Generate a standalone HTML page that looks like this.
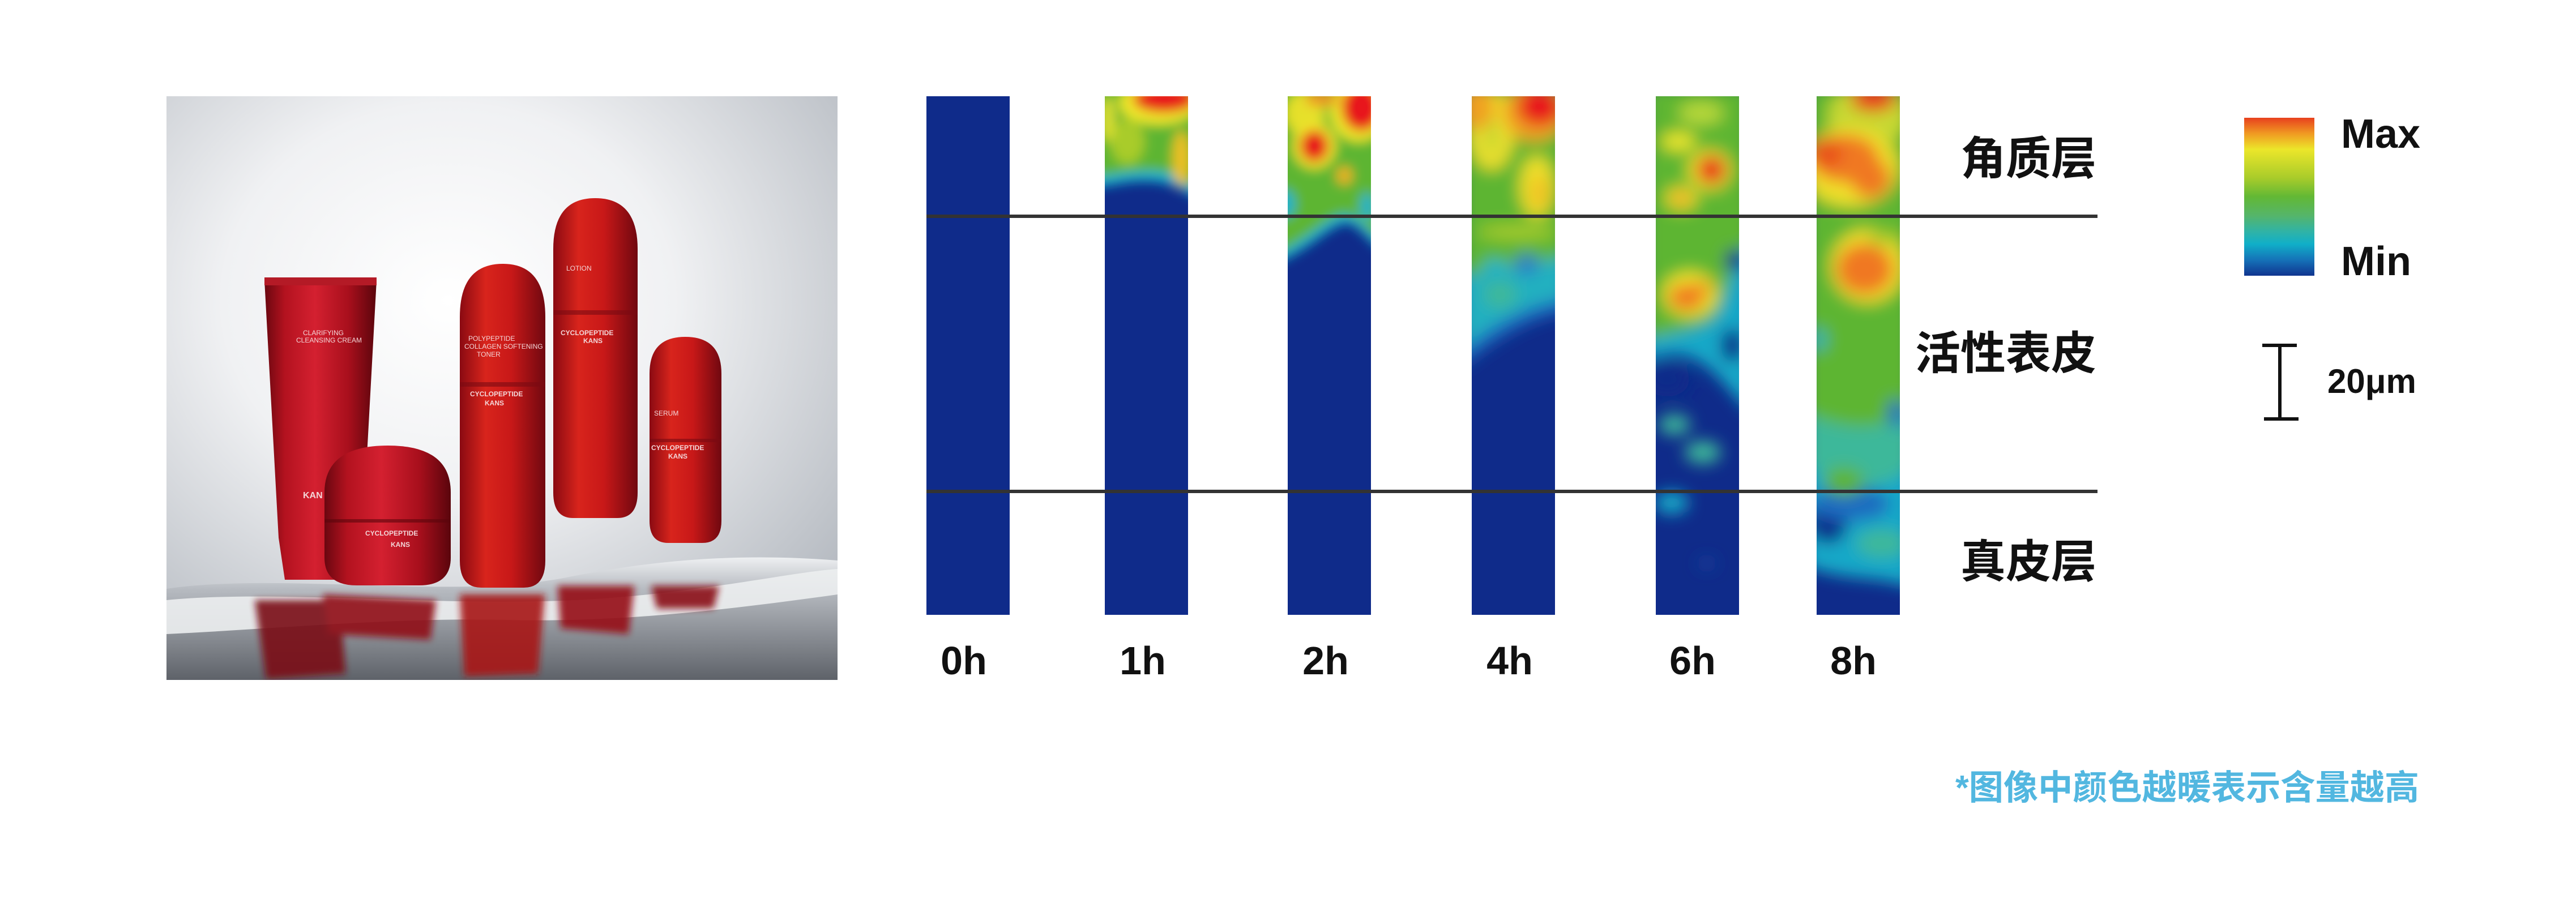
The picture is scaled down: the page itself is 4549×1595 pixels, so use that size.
<!DOCTYPE html>
<html><head><meta charset="utf-8"><style>
html,body{margin:0;padding:0;background:#fff;}
svg{display:block;}
.cjk{font-family:"Liberation Sans","Noto Sans CJK SC",sans-serif;font-weight:700;}
</style></head><body>
<svg width="4549" height="1595" viewBox="0 0 4549 1595" xmlns="http://www.w3.org/2000/svg">
<defs>
  <filter id="b10" x="-30%" y="-30%" width="160%" height="160%"><feGaussianBlur stdDeviation="10"/></filter>
  <filter id="b14" x="-30%" y="-30%" width="160%" height="160%"><feGaussianBlur stdDeviation="14"/></filter>
  <filter id="b6" x="-30%" y="-30%" width="160%" height="160%"><feGaussianBlur stdDeviation="6"/></filter>
  <clipPath id="cb"><rect x="0" y="0" width="147" height="916"/></clipPath>
  <clipPath id="cp"><rect x="294" y="170" width="1185" height="1031"/></clipPath>
  <linearGradient id="leg" x1="0" y1="0" x2="0" y2="1">
    <stop offset="0" stop-color="#e8401e"/><stop offset="0.1" stop-color="#f09a22"/>
    <stop offset="0.2" stop-color="#ece62a"/><stop offset="0.38" stop-color="#a9cc2a"/>
    <stop offset="0.5" stop-color="#62b835"/><stop offset="0.62" stop-color="#55b56a"/>
    <stop offset="0.72" stop-color="#30b3a6"/><stop offset="0.8" stop-color="#10afc8"/>
    <stop offset="0.9" stop-color="#1572b8"/><stop offset="1" stop-color="#10348f"/>
  </linearGradient>
  <radialGradient id="bg" cx="0.42" cy="0.35" r="0.75">
    <stop offset="0" stop-color="#ffffff"/><stop offset="0.45" stop-color="#f0f1f3"/><stop offset="1" stop-color="#b4b9c0"/>
  </radialGradient>
  <linearGradient id="water" x1="0" y1="0" x2="0" y2="1">
    <stop offset="0" stop-color="#eef0f2"/><stop offset="0.25" stop-color="#b8bcc2"/><stop offset="1" stop-color="#5e6269"/>
  </linearGradient>
  <linearGradient id="red" x1="0" y1="0" x2="1" y2="0">
    <stop offset="0" stop-color="#6a0710"/><stop offset="0.18" stop-color="#b3121f"/>
    <stop offset="0.45" stop-color="#d42030"/><stop offset="0.75" stop-color="#a80f1c"/><stop offset="1" stop-color="#5a050c"/>
  </linearGradient>
  <linearGradient id="redB" x1="0" y1="0" x2="1" y2="0">
    <stop offset="0" stop-color="#8a0a12"/><stop offset="0.3" stop-color="#d8241c"/>
    <stop offset="0.6" stop-color="#c81818"/><stop offset="1" stop-color="#700810"/>
  </linearGradient>
</defs>

<!-- PHOTO -->
<g clip-path="url(#cp)">
  <rect x="294" y="170" width="1185" height="1031" fill="url(#bg)"/>
  <path d="M294 1040 C500 1010 800 1060 1000 1020 C1200 980 1350 980 1479 990 L1479 1201 L294 1201 Z" fill="url(#water)"/>
  <path d="M294 1060 C500 1040 800 1075 1050 1058 C1250 1045 1400 1010 1479 1005 L1479 1050 C1300 1075 1100 1100 900 1095 C700 1090 500 1110 294 1120 Z" fill="#eceef0" opacity="0.9"/>
  <g filter="url(#b6)" opacity="0.9">
    <path d="M450 1060 L600 1060 L610 1190 L470 1200 Z" fill="#7a0a12"/>
    <path d="M570 1050 L770 1060 L760 1130 L580 1120 Z" fill="#901018"/>
    <path d="M812 1050 L962 1050 L950 1190 L820 1195 Z" fill="#a81418"/>
    <path d="M985 1035 L1120 1035 L1110 1120 L990 1110 Z" fill="#961018"/>
    <path d="M1150 1035 L1270 1035 L1260 1075 L1160 1075 Z" fill="#8a0c14"/>
  </g>
  <!-- tube -->
  <path d="M467 495 L665 495 L640 950 L600 1024 L503 1024 L492 950 Z" fill="url(#red)"/>
  <rect x="467" y="490" width="198" height="14" fill="#b41a26"/>
  <!-- toner -->
  <path d="M812 560 Q812 466 888 466 Q963 466 963 560 L963 990 Q963 1038 925 1038 L850 1038 Q812 1038 812 990 Z" fill="url(#redB)"/>
  <rect x="812" y="675" width="151" height="8" fill="#7a0a12" opacity="0.6"/>
  <!-- lotion -->
  <path d="M977 440 Q977 350 1051 350 Q1126 350 1126 440 L1126 870 Q1126 915 1090 915 L1012 915 Q977 915 977 870 Z" fill="url(#redB)"/>
  <rect x="977" y="548" width="149" height="8" fill="#7a0a12" opacity="0.6"/>
  <!-- serum -->
  <path d="M1147 660 Q1147 595 1210 595 Q1274 595 1274 660 L1274 920 Q1274 959 1240 959 L1180 959 Q1147 959 1147 920 Z" fill="url(#redB)"/>
  <rect x="1147" y="775" width="127" height="6" fill="#7a0a12" opacity="0.6"/>
  <!-- jar -->
  <path d="M573 870 Q573 787 685 787 Q796 787 796 870 L796 985 Q796 1034 740 1034 L630 1034 Q573 1034 573 985 Z" fill="url(#red)"/>
  <rect x="573" y="917" width="223" height="6" fill="#5a050c" opacity="0.6"/>
  <g fill="#f3d6d8" font-family="Liberation Sans, sans-serif" font-size="12">
    <text x="535" y="592">CLARIFYING</text><text x="523" y="605">CLEANSING CREAM</text>
    <text x="827" y="602">POLYPEPTIDE</text><text x="820" y="616">COLLAGEN SOFTENING</text><text x="842" y="630">TONER</text>
    <text x="830" y="700" font-weight="700">CYCLOPEPTIDE</text><text x="856" y="716" font-weight="700">KANS</text>
    <text x="1000" y="478">LOTION</text><text x="990" y="592" font-weight="700">CYCLOPEPTIDE</text><text x="1030" y="606" font-weight="700">KANS</text>
    <text x="1155" y="734">SERUM</text><text x="1150" y="795" font-weight="700">CYCLOPEPTIDE</text><text x="1180" y="810" font-weight="700">KANS</text>
    <text x="645" y="946" font-weight="700">CYCLOPEPTIDE</text><text x="690" y="966" font-weight="700">KANS</text>
    <text x="535" y="880" font-weight="700" font-size="16">KAN</text>
  </g>
</g>

<!-- HEATMAPS -->
<rect x="1636" y="170" width="147" height="916" fill="#0f2b8a"/>

<g transform="translate(1951,170)"><g clip-path="url(#cb)">
  <rect width="147" height="916" fill="#0f2b8a"/>
  <g filter="url(#b10)">
    <path d="M-20 -20 L170 -20 L170 185 C130 160 110 150 70 150 C30 150 10 160 -20 160 Z" fill="#15b2cc"/>
    <path d="M-20 -20 L170 -20 L170 165 C130 140 110 130 70 132 C30 134 10 140 -20 142 Z" fill="#5db533"/>
    <ellipse cx="40" cy="80" rx="30" ry="40" fill="#a9cc2a"/>
    <ellipse cx="135" cy="110" rx="15" ry="50" fill="#f0c020"/>
    <ellipse cx="95" cy="12" rx="70" ry="38" fill="#f0e82a"/>
    <ellipse cx="105" cy="5" rx="55" ry="24" fill="#e8141a"/>
    <ellipse cx="5" cy="40" rx="12" ry="40" fill="#e0e030"/>
  </g>
</g></g>

<g transform="translate(2274,170)"><g clip-path="url(#cb)">
  <rect width="147" height="916" fill="#0f2b8a"/>
  <g filter="url(#b10)">
    <path d="M-20 -20 L170 -20 L170 275 C140 255 120 220 100 225 C70 232 40 270 -20 295 Z" fill="#15b2cc"/>
    <path d="M-20 -20 L170 -20 L170 255 C140 240 120 205 100 208 C70 212 40 250 -20 278 Z" fill="#5db533"/>
    <ellipse cx="-5" cy="190" rx="18" ry="25" fill="#15b2cc"/>
    <ellipse cx="140" cy="195" rx="12" ry="25" fill="#15b2cc"/>
    <ellipse cx="30" cy="30" rx="35" ry="40" fill="#e6e02a"/>
    <ellipse cx="47" cy="88" rx="38" ry="40" fill="#f0e82a"/>
    <ellipse cx="47" cy="88" rx="25" ry="28" fill="#e8141a"/>
    <ellipse cx="125" cy="25" rx="50" ry="55" fill="#f0e82a"/>
    <ellipse cx="130" cy="20" rx="35" ry="42" fill="#e8141a"/>
    <ellipse cx="100" cy="140" rx="14" ry="16" fill="#f0b020"/>
    <ellipse cx="60" cy="5" rx="30" ry="12" fill="#f09020"/>
  </g>
</g></g>

<g transform="translate(2599,170)"><g clip-path="url(#cb)">
  <rect width="147" height="916" fill="#0f2b8a"/>
  <g filter="url(#b14)">
    <path d="M-20 -20 L170 -20 L170 380 C110 390 50 420 -20 480 Z" fill="#1a6cc0"/>
    <path d="M-20 -20 L170 -20 L170 355 C110 365 50 390 -20 450 Z" fill="#20b0c0"/>
    <path d="M-20 -20 L170 -20 L170 280 C110 300 50 300 -20 320 Z" fill="#5db533"/>
    <ellipse cx="50" cy="350" rx="30" ry="25" fill="#3cb89a"/>
    <ellipse cx="97" cy="297" rx="22" ry="18" fill="#2a7cc8"/>
    <ellipse cx="40" cy="300" rx="20" ry="12" fill="#15b2cc"/>
    <ellipse cx="35" cy="60" rx="40" ry="70" fill="#f0e02a"/>
    <ellipse cx="35" cy="70" rx="15" ry="35" fill="#c8d830"/>
    <ellipse cx="10" cy="20" rx="30" ry="40" fill="#f0a020"/>
    <ellipse cx="110" cy="30" rx="55" ry="50" fill="#f0a020"/>
    <ellipse cx="120" cy="18" rx="40" ry="35" fill="#e8141a"/>
    <ellipse cx="115" cy="160" rx="30" ry="55" fill="#f0e02a"/>
    <ellipse cx="120" cy="170" rx="16" ry="30" fill="#f0c020"/>
    <ellipse cx="80" cy="240" rx="70" ry="12" fill="#a9cc2a"/>
  </g>
</g></g>

<g transform="translate(2924,170)"><g clip-path="url(#cb)">
  <rect width="147" height="916" fill="#0f2b8a"/>
  <g filter="url(#b14)">
    <path d="M-20 -20 L170 -20 L170 560 C120 520 80 420 -20 470 Z" fill="#14a8c8"/>
    <path d="M-20 -20 L170 -20 L170 260 C120 300 130 380 90 400 C60 415 20 420 -20 430 Z" fill="#5db533"/>
    <ellipse cx="140" cy="290" rx="18" ry="20" fill="#0f2b8a"/>
    <ellipse cx="135" cy="440" rx="20" ry="30" fill="#0f2b8a"/>
    <ellipse cx="20" cy="500" rx="40" ry="30" fill="#0f2b8a"/>
    <ellipse cx="80" cy="30" rx="40" ry="20" fill="#b8d83a"/>
    <ellipse cx="40" cy="80" rx="30" ry="16" fill="#f0e82a"/>
    <ellipse cx="95" cy="130" rx="38" ry="35" fill="#f0e82a"/>
    <ellipse cx="98" cy="130" rx="26" ry="25" fill="#e8141a"/>
    <ellipse cx="45" cy="180" rx="28" ry="20" fill="#f0e82a"/>
    <ellipse cx="45" cy="180" rx="18" ry="12" fill="#f0a020"/>
    <ellipse cx="60" cy="350" rx="48" ry="40" fill="#f0e82a"/>
    <ellipse cx="55" cy="355" rx="32" ry="24" fill="#f07820"/>
    <ellipse cx="80" cy="340" rx="18" ry="14" fill="#f09020"/>
    <ellipse cx="33" cy="580" rx="28" ry="18" fill="#3cb89a"/>
    <ellipse cx="83" cy="629" rx="32" ry="20" fill="#3cb89a"/>
    <ellipse cx="28" cy="718" rx="30" ry="20" fill="#15a8c8"/>
    <ellipse cx="90" cy="825" rx="15" ry="8" fill="#1e4aa0"/>
  </g>
</g></g>

<g transform="translate(3208,170)"><g clip-path="url(#cb)">
  <rect width="147" height="916" fill="#0f2b8a"/>
  <g filter="url(#b14)">
    <path d="M-20 -20 L170 -20 L170 870 C110 845 60 860 -20 830 Z" fill="#15a8c8"/>
    <path d="M-20 -20 L170 -20 L170 650 C120 700 60 700 -20 650 Z" fill="#3cb89a"/>
    <path d="M-20 -20 L170 -20 L170 560 C110 580 80 600 -20 560 Z" fill="#5db533"/>
    <ellipse cx="20" cy="750" rx="35" ry="40" fill="#0f2b8a"/>
    <ellipse cx="60" cy="720" rx="70" ry="30" fill="#1a6cc0"/>
    <ellipse cx="115" cy="790" rx="45" ry="25" fill="#3cb89a"/>
    <ellipse cx="140" cy="560" rx="15" ry="25" fill="#1a6cc0"/>
    <ellipse cx="48" cy="680" rx="35" ry="25" fill="#5db533"/>
    <ellipse cx="5" cy="430" rx="12" ry="20" fill="#20b0c0"/>
    <ellipse cx="90" cy="35" rx="70" ry="55" fill="#c8d830"/>
    <ellipse cx="60" cy="125" rx="85" ry="70" fill="#f0e02a"/>
    <ellipse cx="50" cy="110" rx="60" ry="42" fill="#f07820"/>
    <ellipse cx="95" cy="145" rx="35" ry="35" fill="#f07820"/>
    <ellipse cx="15" cy="100" rx="30" ry="25" fill="#e8501a"/>
    <ellipse cx="100" cy="5" rx="40" ry="22" fill="#e8301a"/>
    <ellipse cx="90" cy="300" rx="65" ry="65" fill="#f0e02a"/>
    <ellipse cx="85" cy="305" rx="50" ry="45" fill="#f07820"/>
    <ellipse cx="120" cy="250" rx="30" ry="12" fill="#a9cc2a"/>
  </g>
</g></g>

<rect x="1636" y="379" width="2068" height="6" fill="#333"/>
<rect x="1636" y="865" width="2068" height="6" fill="#333"/>

<g font-family="Liberation Sans, sans-serif" font-weight="700" font-size="70" fill="#111" text-anchor="middle">
  <text x="1702" y="1191">0h</text>
  <text x="2018" y="1191">1h</text>
  <text x="2341" y="1191">2h</text>
  <text x="2666" y="1191">4h</text>
  <text x="2989" y="1191">6h</text>
  <text x="3273" y="1191">8h</text>
</g>

<g class="cjk" font-size="80" fill="#111" text-anchor="end">
  <text x="3702" y="308">角质层</text>
  <text x="3702" y="652">活性表皮</text>
  <text x="3702" y="1020">真皮层</text>
</g>

<rect x="3963" y="208" width="124" height="279" fill="url(#leg)"/>
<g class="cjk" font-size="72" fill="#111">
  <text x="4134" y="261">Max</text>
  <text x="4134" y="486">Min</text>
</g>
<rect x="4023" y="610" width="6" height="131" fill="#111"/>
<rect x="3995" y="607" width="61" height="6" fill="#111"/>
<rect x="3998" y="737" width="61" height="6" fill="#111"/>
<text class="cjk" x="4110" y="694" font-size="60" fill="#111">20μm</text>

<text class="cjk" x="3453" y="1412" font-size="61" fill="#52b7e0" textLength="819" lengthAdjust="spacingAndGlyphs">*图像中颜色越暖表示含量越高</text>
</svg>
</body></html>
